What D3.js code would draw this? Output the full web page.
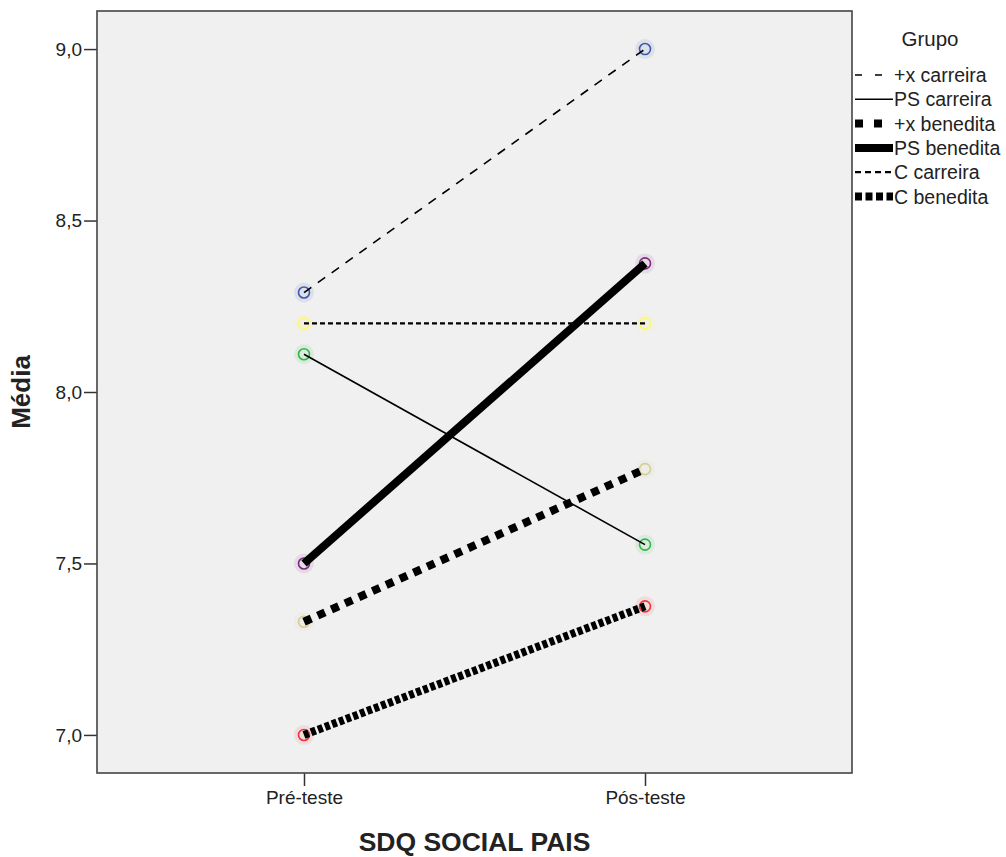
<!DOCTYPE html>
<html><head><meta charset="utf-8">
<script src="https://cdn.jsdelivr.net/npm/d3@7"></script>
<style>
html,body{margin:0;padding:0;background:#fff;}
svg text{font-family:"Liberation Sans",Arial,sans-serif;fill:#222;}
</style></head>
<body>
<svg id="chart" width="1006" height="857"></svg>
<script>
const categories = ["Pré-teste", "Pós-teste"];
const groups = ["+x carreira", "PS carreira", "+x benedita", "PS benedita", "C carreira", "C benedita"];
const preValues = [8.29, 8.11, 7.33, 7.50, 8.20, 7.00];
const postValues = [9.00, 7.555, 7.775, 8.375, 8.20, 7.375];
const yTicks = [7.0, 7.5, 8.0, 8.5, 9.0];
const markerColors = ["#3E58AC", "#2EB848", "#D3CE97", "#7C287D", "#FBF873", "#EF3338"];
const lineWidths = [1.6, 1.6, 8, 8, 2.2, 8];
const lineDashes = ["9,8", null, "8,7", null, "5,3", "5,2.5"];
const legendDashes = ["7,13", null, "8,11", null, "6,4", "7,3.5"];

const svg = d3.select("#chart");
const pL = 97, pR = 852, pT = 11, pB = 773;

const x = d3.scalePoint().domain(categories).range([pL, pR]).padding(0.607);
const y = d3.scaleLinear().domain([6.889, 9.111]).range([pB, pT]);

svg.append("rect").attr("x", pL).attr("y", pT).attr("width", pR - pL).attr("height", pB - pT)
  .attr("fill", "#f0f0f0");

const fmt = v => d3.format(".1f")(v).replace(".", ",");
const yAxis = svg.append("g").attr("transform", `translate(${pL},0)`)
  .call(d3.axisLeft(y).tickValues(yTicks).tickFormat(fmt).tickSize(13).tickPadding(2));
const xAxis = svg.append("g").attr("transform", `translate(0,${pB})`)
  .call(d3.axisBottom(x).tickSize(13).tickPadding(5));
[yAxis, xAxis].forEach(g => {
  g.select(".domain").remove();
  g.selectAll(".tick line").attr("stroke", "#333").attr("stroke-width", 1.5);
  g.selectAll(".tick text").style("font-size", "19px").attr("fill", "#222");
});

const series = groups.map((g, i) => ({name: g, values: [preValues[i], postValues[i]], i}));

series.forEach(s => {
  s.values.forEach((v, k) => {
    svg.append("circle").attr("cx", x(categories[k])).attr("cy", y(v)).attr("r", 10)
      .attr("fill", markerColors[s.i]).attr("opacity", 0.1);
    svg.append("circle").attr("cx", x(categories[k])).attr("cy", y(v)).attr("r", 5.5)
      .attr("fill", "none").attr("stroke", markerColors[s.i]).attr("stroke-width", 1.6);
  });
});

const line = d3.line().x((d, k) => x(categories[k])).y(d => y(d));
series.forEach(s => {
  svg.append("path").datum(s.values).attr("d", line)
    .attr("fill", "none").attr("stroke", "#000")
    .attr("stroke-width", lineWidths[s.i])
    .attr("stroke-dasharray", lineDashes[s.i]);
});

svg.append("rect").attr("x", pL).attr("y", pT).attr("width", pR - pL).attr("height", pB - pT)
  .attr("fill", "none").attr("stroke", "#444").attr("stroke-width", 1.6);

svg.append("text").attr("x", (pL + pR) / 2).attr("y", 851).attr("text-anchor", "middle")
  .style("font-size", "26.5px").style("font-weight", "bold").text("SDQ SOCIAL PAIS");
svg.append("text").attr("transform", `translate(30,${(pT + pB) / 2}) rotate(-90)`).attr("text-anchor", "middle")
  .style("font-size", "26px").style("font-weight", "bold").text("Média");

svg.append("text").attr("x", 930).attr("y", 46).attr("text-anchor", "middle")
  .style("font-size", "20.5px").text("Grupo");
const lg = svg.append("g");
series.forEach((s, k) => {
  const yy = 75 + k * 24.3;
  lg.append("line").attr("x1", 855).attr("x2", 893).attr("y1", yy).attr("y2", yy)
    .attr("stroke", "#000").attr("stroke-width", lineWidths[s.i])
    .attr("stroke-dasharray", legendDashes[s.i]);
  lg.append("text").attr("x", 894).attr("y", yy + 7).style("font-size", "19.5px").text(s.name);
});
</script>
</body></html>
